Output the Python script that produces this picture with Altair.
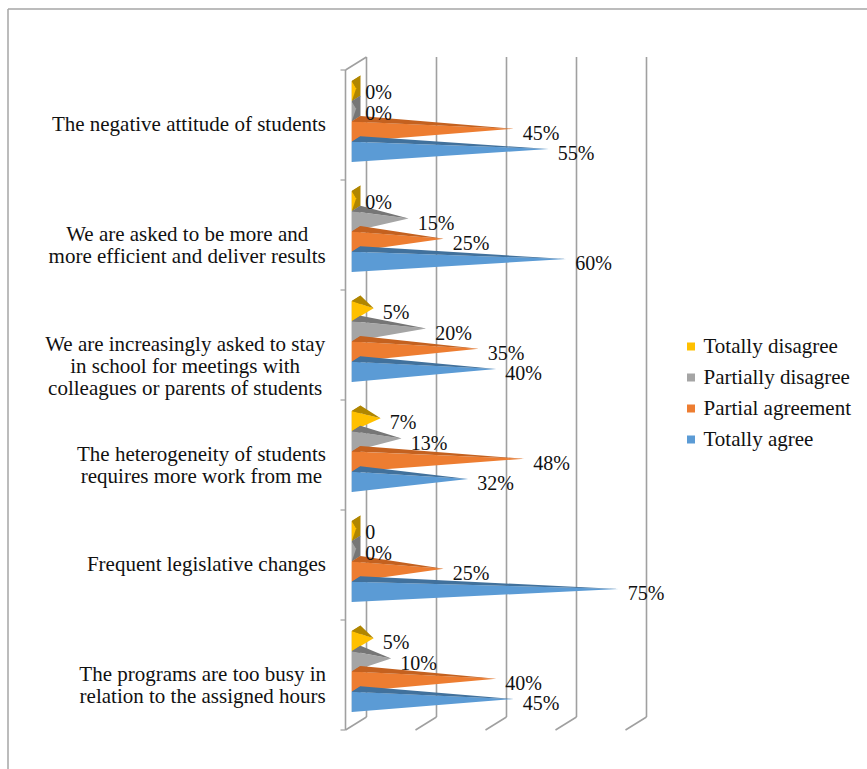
import altair as alt
import pandas as pd

# ---- data -------------------------------------------------------------
CATEGORIES = [
    "The negative attitude of students",
    "We are asked to be more and\nmore efficient and deliver results",
    "We are increasingly asked to stay\nin school for meetings with\ncolleagues or parents of students",
    "The heterogeneity of students\nrequires more work from me",
    "Frequent legislative changes",
    "The programs are too busy in\nrelation to the assigned hours",
]
SERIES = ["Totally disagree", "Partially disagree", "Partial agreement", "Totally agree"]

TOTALLY_DISAGREE = [0, 0, 5, 7, 0, 5]
PARTIALLY_DISAGREE = [0, 15, 20, 13, 0, 10]
PARTIAL_AGREEMENT = [45, 25, 35, 48, 25, 40]
TOTALLY_AGREE = [55, 60, 40, 32, 75, 45]

TOTALLY_DISAGREE_LABELS = ["0%", "0%", "5%", "7%", "0", "5%"]
PARTIALLY_DISAGREE_LABELS = ["0%", "15%", "20%", "13%", "0%", "10%"]
PARTIAL_AGREEMENT_LABELS = ["45%", "25%", "35%", "48%", "25%", "40%"]
TOTALLY_AGREE_LABELS = ["55%", "60%", "40%", "32%", "75%", "45%"]

GRID_VALUES = [0, 20, 40, 60, 80]

# ---- styling ----------------------------------------------------------
FACE_COLORS = ["#FFC000", "#A5A5A5", "#ED7D31", "#5B9BD5"]
SHADE_COLORS = ["#B08600", "#767676", "#C4611F", "#41719C"]
GRID_COLOR = "#A0A0A0"
FONT = "Liberation Serif"
TEXT_COLOR = "#111111"
CAT_FONT_SIZE = 21
VALUE_FONT_SIZE = 20

# Times-style advance widths (per em) used to centre multi-line category labels
SERIF_WIDTHS = {
    " ": .25, "a": .444, "b": .5, "c": .444, "d": .5, "e": .444, "f": .333,
    "g": .5, "h": .5, "i": .278, "j": .278, "k": .5, "l": .278, "m": .778,
    "n": .5, "o": .5, "p": .5, "q": .5, "r": .333, "s": .389, "t": .278,
    "u": .5, "v": .5, "w": .722, "x": .5, "y": .5, "z": .444,
    "T": .611, "W": .944, "F": .556, "P": .556,
}


def text_width(s, size):
    return sum(SERIF_WIDTHS.get(ch, .5) for ch in s) * size


# pixel geometry of the pseudo-3D box, converted to data units
PX_PER_PCT = 3.5
PX_PER_ROW = 110.0


def ux(px):
    return px / PX_PER_PCT


def uy(px):
    return px / PX_PER_ROW


DEPTH_X, DEPTH_Y = ux(21), uy(13)        # depth of the whole box
BAR_H = uy(20.25)                        # thickness of one pyramid
GROUP_OFF = uy(11)                       # first pyramid below the row line
BASE_X = ux(6.3)                         # front edge of pyramid bases
BAR_DX, BAR_DY = ux(8.7), uy(5.4)        # depth of a pyramid's base
APEX_DX, APEX_DY = ux(4.35), uy(7.3)     # apex relative to base corner
LABEL_DX, LABEL_DY = ux(9), uy(5)
CAT_RIGHT = -19.5                        # right edge of category label blocks (px)

N = len(CATEGORIES)
X_MAX = 80 + DEPTH_X
values = [TOTALLY_DISAGREE, PARTIALLY_DISAGREE, PARTIAL_AGREEMENT, TOTALLY_AGREE]
labels = [TOTALLY_DISAGREE_LABELS, PARTIALLY_DISAGREE_LABELS,
          PARTIAL_AGREEMENT_LABELS, TOTALLY_AGREE_LABELS]


def triangle_rows(pts):
    """Turn a triangle into area rows (x, y, y2) with straight edges."""
    a, b, c = sorted(pts, key=lambda p: p[0])
    if abs(a[0] - b[0]) < 1e-9:
        return [(a[0], a[1], b[1]), (c[0], c[1], c[1])]
    if abs(b[0] - c[0]) < 1e-9:
        return [(a[0], a[1], a[1]), (b[0], b[1], c[1])]
    mid = a[1] + (c[1] - a[1]) * (b[0] - a[0]) / (c[0] - a[0])
    return [(a[0], a[1], a[1]), (b[0], b[1], mid), (c[0], c[1], c[1])]


faces = []
text_rows = []
for s, name in enumerate(SERIES):
    shade = name + " (shade)"
    for i in range(N):
        v = values[s][i]
        top = i + GROUP_OFF + s * BAR_H
        bot = top + BAR_H
        x0 = BASE_X
        apex = (x0 + APEX_DX + v, top + APEX_DY)
        bar = f"{s}-{i}"
        # square base seen edge-on
        for x, y, y2 in [(x0, top, bot), (x0 + BAR_DX, top - BAR_DY, bot - BAR_DY)]:
            faces.append(dict(series=s, layer=0, key=shade, bar=bar, x=x, y=y, y2=y2))
        # front face
        for x, y, y2 in triangle_rows([(x0, top), (x0, bot), apex]):
            faces.append(dict(series=s, layer=1, key=name, bar=bar, x=x, y=y, y2=y2))
        # top face
        for x, y, y2 in triangle_rows([(x0, top), (x0 + BAR_DX, top - BAR_DY), apex]):
            faces.append(dict(series=s, layer=2, key=shade, bar=bar, x=x, y=y, y2=y2))
        text_rows.append(dict(x=apex[0] + LABEL_DX, y=apex[1] + LABEL_DY,
                              label=labels[s][i]))

faces = pd.DataFrame(faces)
text_df = pd.DataFrame(text_rows)

x_scale = alt.Scale(domain=[0, X_MAX], nice=False, zero=False)
y_scale = alt.Scale(domain=[N, -DEPTH_Y], nice=False, zero=False)
X = lambda f: alt.X(f, type="quantitative", scale=x_scale, axis=None)
Y = lambda f: alt.Y(f, type="quantitative", scale=y_scale, axis=None, stack=None)

color_scale = alt.Scale(
    domain=SERIES + [n + " (shade)" for n in SERIES],
    range=FACE_COLORS + SHADE_COLORS,
)
legend = alt.Legend(
    values=SERIES, title=None, orient="none", legendX=335, legendY=279,
    symbolType="square", symbolSize=64, symbolStrokeWidth=0, symbolOpacity=1,
    labelFont=FONT, labelFontSize=CAT_FONT_SIZE, labelColor=TEXT_COLOR, labelOffset=2,
    rowPadding=9, padding=0,
)

# ---- box: left wall, back grid lines, floor slants --------------------
grid_rows = []
for g in GRID_VALUES:
    grid_rows.append(dict(x=g + DEPTH_X, y=-DEPTH_Y, x2=g + DEPTH_X, y2=N - DEPTH_Y))
    grid_rows.append(dict(x=g, y=N, x2=g + DEPTH_X, y2=N - DEPTH_Y))
grid_rows.append(dict(x=0, y=0, x2=0, y2=N))
grid_rows.append(dict(x=0, y=0, x2=DEPTH_X, y2=-DEPTH_Y))
grid = alt.Chart(pd.DataFrame(grid_rows)).mark_rule(
    color=GRID_COLOR, strokeWidth=1.6
).encode(x=X("x"), y=Y("y"), x2="x2:Q", y2="y2:Q")

ticks = alt.Chart(pd.DataFrame({"y": list(range(N + 1))})).mark_rule(
    color=GRID_COLOR, strokeWidth=1.2
).encode(x=alt.value(-5), x2=alt.value(0), y=Y("y"))

# outer frame
frame = alt.Chart(pd.DataFrame({"k": [0]})).mark_rule(color="#A6A6A6", strokeWidth=1.5)
frame_top = frame.encode(x=alt.value(-337.5), x2=alt.value(530), y=alt.value(-48))
frame_left = frame.encode(x=alt.value(-337.5), y=alt.value(-48), y2=alt.value(720))

layers = [frame_top, frame_left, grid, ticks]
for s in range(len(SERIES)):
    for layer in range(3):
        sub = faces[(faces.series == s) & (faces.layer == layer)]
        layers.append(
            alt.Chart(sub).mark_area(orient="vertical", interpolate="linear", opacity=1)
            .encode(
                x=X("x"), y=Y("y"), y2="y2:Q",
                color=alt.Color("key:N", scale=color_scale, legend=legend),
                detail="bar:N",
            )
        )

value_text = alt.Chart(text_df).mark_text(
    align="left", baseline="middle", font=FONT, fontSize=VALUE_FONT_SIZE, color=TEXT_COLOR
).encode(x=X("x"), y=Y("y"), text="label:N")

# category labels: block flush right, lines centred within the block
cat_centers = [
    ux(CAT_RIGHT - max(text_width(line, CAT_FONT_SIZE) for line in c.split("\n")) / 2)
    for c in CATEGORIES
]
cat_df = pd.DataFrame({"cat": CATEGORIES, "cx": cat_centers,
                       "y": [i + 0.5 for i in range(N)]})
cat_text = alt.Chart(cat_df).mark_text(
    align="center", baseline="middle", font=FONT, fontSize=CAT_FONT_SIZE,
    color=TEXT_COLOR, lineBreak="\n", lineHeight=22,
).encode(x=X("cx"), y=Y("y"), text="cat:N")

layers += [value_text, cat_text]

chart = alt.layer(*layers).properties(
    width=301, height=673,
    padding={"left": 345.5, "top": 57, "right": 220.5, "bottom": 39},
    autosize=alt.AutoSizeParams(type="none"),
    background="white",
).configure_view(strokeWidth=0)

chart.save("out.html", embed_options={"renderer": "svg", "actions": False})
